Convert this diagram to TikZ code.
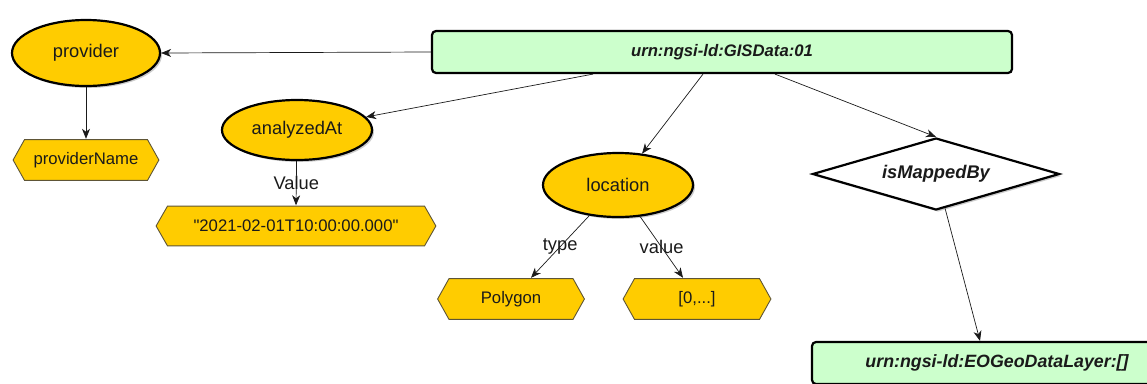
\documentclass[tikz,border=0pt]{standalone}
\usepackage{fontspec}
\setmainfont{Liberation Sans}
\newfontfamily\plainsans{Liberation Sans}
\usetikzlibrary{arrows.meta,shapes.geometric,shadows}
\definecolor{gold}{HTML}{FFCC00}
\definecolor{mint}{HTML}{CCFFCC}
\definecolor{hexline}{HTML}{5E5536}
\definecolor{ink}{HTML}{1A1A1A}
\begin{document}
\begin{tikzpicture}[x=1pt,y=-1pt,
  ent/.style={ellipse, draw=black, line width=2.2pt, fill=gold, inner sep=0pt, text=ink,
    font=\fontsize{18.3}{22}\selectfont,
    drop shadow={shadow xshift=2pt, shadow yshift=-2pt, opacity=0.2, fill=black}},
  hexbox/.style={rectangle, inner sep=0pt, minimum height=42pt, text=ink,
    font=\plainsans\fontsize{16.7}{20}\selectfont,
    path picture={\draw[fill=gold, draw=hexline, line width=0.9pt]
      ([xshift=0.6pt]path picture bounding box.west)
      -- ([xshift=12pt,yshift=-0.6pt]path picture bounding box.north west)
      -- ([xshift=-12pt,yshift=-0.6pt]path picture bounding box.north east)
      -- ([xshift=-0.6pt]path picture bounding box.east)
      -- ([xshift=-12pt,yshift=0.6pt]path picture bounding box.south east)
      -- ([xshift=12pt,yshift=0.6pt]path picture bounding box.south west)
      -- cycle;}},
  urnbox/.style={rectangle, rounded corners=4pt, draw=black, line width=2.2pt, fill=mint,
    inner sep=0pt, minimum height=42pt, text=ink},
  relbox/.style={diamond, draw=black, line width=2.2pt, fill=white, inner sep=0pt, aspect=3.43,
    minimum width=247pt, minimum height=72pt, text=ink,
    font=\bfseries\itshape\fontsize{18.3}{22}\selectfont,
    drop shadow={shadow xshift=2pt, shadow yshift=-2pt, opacity=0.2, fill=black}},
  conn/.style={draw=ink, line width=0.7pt, -{Stealth[length=10pt,width=8pt,inset=3pt]}},
  lbl/.style={font=\fontsize{18.3}{22}\selectfont, inner sep=0pt, text=ink}
]
\useasboundingbox (0,0) rectangle (1147,383);
\clip (0,0) rectangle (1147,383);

\node[urnbox, minimum width=580pt, font=\bfseries\itshape\fontsize{16.7}{20}\selectfont] (gis) at (722,52) {urn:ngsi-ld:GISData:01};
\node[ent, minimum width=148pt, minimum height=66pt] (prov) at (86,53) {provider};
\node[hexbox, minimum width=147pt] (pname) at (86,160) {providerName};
\node[ent, minimum width=150pt, minimum height=60pt] (at) at (297,130) {analyzedAt};
\node[hexbox, minimum width=281pt, minimum height=41pt] (date) at (296,226) {"2021-02-01T10:00:00.000"};
\node[ent, minimum width=150pt, minimum height=64pt] (loc) at (618,185) {location};
\node[hexbox, minimum width=148pt] (poly) at (511,299) {Polygon};
\node[hexbox, minimum width=149pt] (arr) at (697,299) {[0,...]};
\node[relbox] (ism) at (936,174) {isMappedBy};
\node[urnbox, minimum width=370pt, font=\bfseries\itshape\fontsize{17.8}{21}\selectfont] (eo) at (997,363) {urn:ngsi-ld:EOGeoDataLayer:[]};

\draw[conn] (gis.west) -- (prov.east);
\draw[conn] (prov) -- (pname.north);
\draw[conn] ([xshift=-129pt]gis.south) -- (at);
\draw[conn] (at) -- node[lbl] {Value} (date.north);
\draw[conn] ([xshift=-19pt]gis.south) -- (loc);
\draw[conn] (loc) -- node[lbl] {type} ([xshift=20pt]poly.north);
\draw[conn] (loc) -- node[lbl] {value} ([xshift=-14pt]arr.north);
\draw[conn] ([xshift=53pt]gis.south) -- (ism.north);
\draw[conn] (ism) -- ([xshift=-17pt]eo.north);
\end{tikzpicture}
\end{document}
